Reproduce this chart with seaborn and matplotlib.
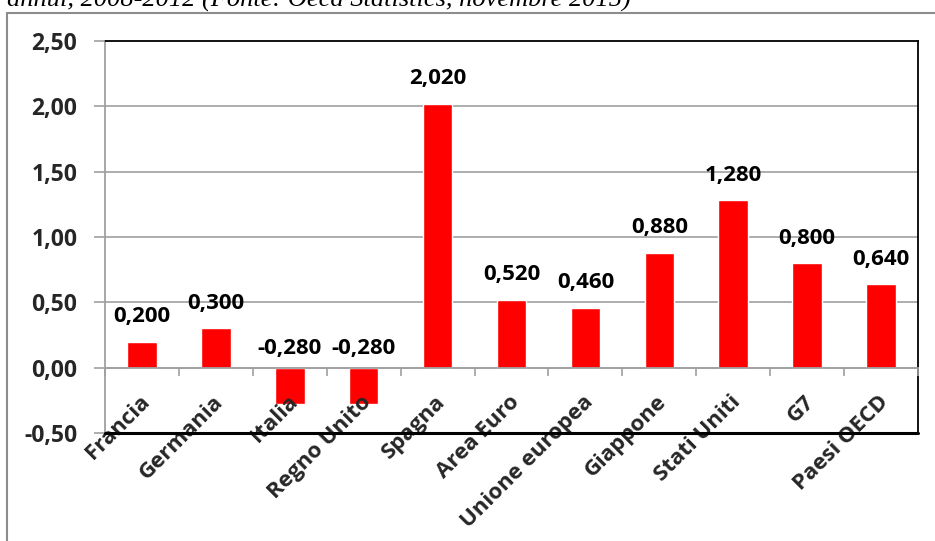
import matplotlib
matplotlib.use("Agg")
import matplotlib.pyplot as plt
import matplotlib.ticker as mticker
from matplotlib.lines import Line2D
from matplotlib.transforms import ScaledTranslation
import seaborn as sns
import pandas as pd

paesi = ["Francia", "Germania", "Italia", "Regno Unito", "Spagna", "Area Euro",
         "Unione europea", "Giappone", "Stati Uniti", "G7", "Paesi OECD"]
valori = [0.200, 0.300, -0.280, -0.280, 2.020, 0.520, 0.460, 0.880, 1.280, 0.800, 0.640]
y_ticks = [-0.50, 0.00, 0.50, 1.00, 1.50, 2.00, 2.50]
titolo = "annui, 2008-2012 (Fonte: Oecd Statistics, novembre 2015)"

sns.set_theme(style="white")
plt.rcParams["font.family"] = ["Open Sans", "DejaVu Sans"]

df = pd.DataFrame({"paese": paesi, "valore": valori})

W, H = 935, 541
fig = plt.figure(figsize=(W / 100, H / 100), dpi=100)
ax = fig.add_axes([105 / W, 1 - 433 / H, 813 / W, 392 / H])

# axis (ticks, labels, spines) drawn above the bars
ax.set_axisbelow(False)

sns.barplot(data=df, x="paese", y="valore", color="#FF0000", saturation=1,
            width=0.4, ax=ax, zorder=2)

ax.set_xlim(-0.5, len(paesi) - 0.5)
ax.set_ylim(y_ticks[0], y_ticks[-1])
ax.set_xlabel("")
ax.set_ylabel("")

grid_col = "#A0A0A0"
# horizontal gridlines behind the bars
ax.grid(False)
for yv in y_ticks[1:-1]:
    ax.axhline(yv, color=grid_col, linewidth=1.2, zorder=0.5)

ax.set_yticks(y_ticks)
ax.yaxis.set_major_formatter(mticker.FuncFormatter(lambda v, p: f"{v:.2f}".replace(".", ",")))
ax.tick_params(axis="y", which="major", direction="out", length=8, width=1.2,
               color=grid_col, pad=12, labelsize=16.5, left=True)
for lab in ax.get_yticklabels():
    lab.set_fontweight("bold")

# box edges
for side in ["top", "right"]:
    ax.spines[side].set_color("black")
    ax.spines[side].set_linewidth(1.3)
ax.spines["left"].set_color(grid_col)
ax.spines["left"].set_linewidth(1.3)
# category axis crosses at zero
ax.spines["bottom"].set_position(("data", 0))
ax.spines["bottom"].set_color(grid_col)
ax.spines["bottom"].set_linewidth(1.3)
ax.axhline(y_ticks[0], color="black", linewidth=2.2, clip_on=False, zorder=5)

# category labels and boundary ticks
ax.set_xticks(range(len(paesi)))
ax.set_xticks([i - 0.5 for i in range(len(paesi) + 1)], minor=True)
ax.tick_params(axis="x", which="minor", direction="out", length=6, width=1.2,
               color=grid_col, bottom=True)
ax.tick_params(axis="x", which="major", length=0, pad=17, labelsize=16, bottom=True)
ax.set_xticklabels(paesi, rotation=45, ha="right", va="top",
                   rotation_mode="anchor", fontweight="bold")
shift = ScaledTranslation(-3 / 100, 0, fig.dpi_scale_trans)
for lab in ax.get_xticklabels():
    lab.set_transform(lab.get_transform() + shift)

# value labels
for i, v in enumerate(valori):
    base = max(v, 0)
    off = 14 if v > 0 else 10
    ax.annotate(f"{v:.3f}".replace(".", ","), xy=(i, base), xytext=(0, off),
                textcoords="offset points", ha="center", va="baseline",
                fontsize=16, fontweight="bold", color="black", zorder=6)

# outer frame of the chart area
frame_col = "#8C8C8C"
fig.add_artist(Line2D([7 / W, 7 / W], [0, 1 - 13 / H], color=frame_col, linewidth=1.5))
fig.add_artist(Line2D([7 / W, 1], [1 - 13 / H, 1 - 13 / H], color=frame_col, linewidth=1.5))

# caption line above the chart
fig.text(7 / W, 1 - 7 / H, titolo, family=["Liberation Serif", "DejaVu Serif"],
         style="italic", fontsize=19, va="baseline", ha="left", color="black")

fig.savefig("out.png", dpi=100)
